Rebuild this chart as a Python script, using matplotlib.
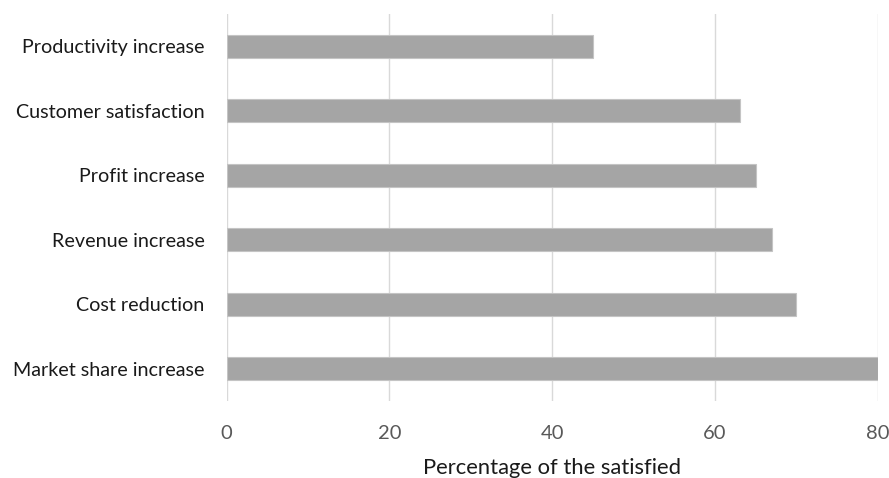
import matplotlib
matplotlib.use("Agg")
import matplotlib.pyplot as plt

categories = ["Market share increase", "Cost reduction", "Revenue increase",
              "Profit increase", "Customer satisfaction", "Productivity increase"]
values = [80, 70, 67, 65, 63, 45]
x_ticks = [0, 20, 40, 60, 80]

plt.rcParams['font.family'] = ['Lato', 'DejaVu Sans']

fig = plt.figure(figsize=(8.89, 4.78), dpi=100)
ax = fig.add_axes([0.255, 0.161, 0.7325, 0.8097])

ax.barh(range(len(categories)), values, height=0.36, color='#a5a5a5',
        edgecolor='#c4c4c4', linewidth=0.8, zorder=3)

ax.set_xlim(0, 80)
ax.set_ylim(-0.5, len(categories) - 0.5)
ax.set_xticks(x_ticks)
ax.set_xticklabels([str(t) for t in x_ticks], fontsize=14.5, color='#595959')
ax.set_yticks(range(len(categories)))
ax.set_yticklabels(categories, fontsize=14.2, color='#1a1a1a')
ax.tick_params(axis='x', length=0, pad=17)
ax.tick_params(axis='y', length=0, pad=16)

ax.grid(axis='x', color='#d9d9d9', linewidth=1, zorder=0)
for s in ax.spines.values():
    s.set_visible(False)

ax.set_xlabel("Percentage of the satisfied", fontsize=15.8, color='#1a1a1a', labelpad=12)

fig.savefig("out.png", dpi=100)
